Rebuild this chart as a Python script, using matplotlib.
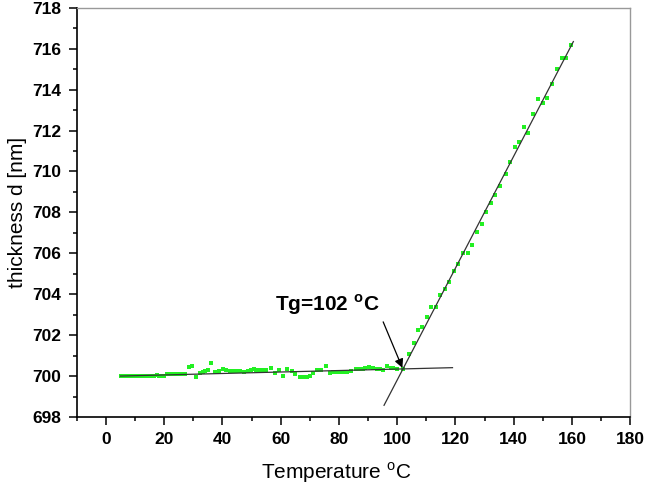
import numpy as np
import matplotlib.pyplot as plt
from matplotlib.ticker import MultipleLocator

plt.rcParams['font.family'] = ['Liberation Sans', 'DejaVu Sans']

temp = [5.3, 6.3, 7.1, 7.9, 8.8, 9.6, 10.5, 11.4, 12.2, 13.1, 14.0, 14.9,
        15.8, 16.6, 17.5, 18.4, 19.3, 20.1, 21.0, 22.0, 22.8, 23.7, 24.6,
        25.4, 26.3, 27.2, 28.5, 29.7, 31.1, 32.3, 33.2, 34.1, 34.9, 36.0,
        37.5, 38.7, 40.1, 41.2, 42.6, 43.5, 44.4, 45.3, 46.2, 47.5, 48.9,
        49.8, 50.7, 51.7, 52.7, 53.6, 55.0, 56.7, 57.9, 59.3, 60.7, 62.3,
        63.8, 65.1, 66.5, 67.8, 68.9, 70.1, 71.2, 72.6, 73.9, 75.6, 77.0,
        78.1, 79.2, 80.4, 81.5, 82.9, 84.0, 85.9, 87.0, 88.4, 89.1, 90.5,
        91.8, 93.0, 94.1, 95.0, 96.4, 97.8, 98.7, 99.9, 101.9,
        104.1, 105.7, 107.2, 108.7, 110.2, 111.6, 113.3, 114.8, 116.5,
        117.9, 119.6, 121.0, 122.6, 124.3, 125.8, 127.5, 129.0, 130.5,
        132.2, 133.6, 135.4, 137.2, 138.6, 140.3, 141.9, 143.4, 144.9,
        146.6, 148.3, 150.0, 151.5, 153.3, 154.9, 156.6, 158.0, 159.8]
thick = [700.00, 700.00, 700.00, 700.00, 700.00, 700.00, 700.00, 700.00,
         700.00, 700.00, 700.00, 700.00, 700.00, 700.00, 700.03, 700.00,
         700.00, 700.00, 700.08, 700.08, 700.08, 700.08, 700.08, 700.08,
         700.10, 700.11, 700.42, 700.47, 699.97, 700.16, 700.21, 700.24,
         700.28, 700.62, 700.21, 700.24, 700.34, 700.29, 700.24, 700.24,
         700.24, 700.24, 700.24, 700.21, 700.26, 700.29, 700.34, 700.31,
         700.31, 700.31, 700.31, 700.41, 700.15, 700.28, 700.00, 700.33,
         700.24, 700.11, 699.97, 699.97, 699.97, 700.00, 700.13, 700.29,
         700.29, 700.49, 700.13, 700.18, 700.18, 700.18, 700.21, 700.21,
         700.24, 700.34, 700.34, 700.34, 700.41, 700.46, 700.41, 700.37,
         700.34, 700.29, 700.51, 700.41, 700.41, 700.37, 700.37,
         701.08, 701.60, 702.25, 702.38, 702.87, 703.39, 703.39, 703.98,
         704.24, 704.62, 705.14, 705.48, 706.00, 706.00, 706.41, 707.06,
         707.42, 708.00, 708.45, 708.85, 709.30, 709.88, 710.45, 711.19,
         711.43, 712.15, 711.87, 712.80, 713.53, 713.37, 713.58, 714.28,
         715.02, 715.54, 715.57, 716.19]

# linear fits: (slope, value at Tg, T range)
tg = 102
d_tg = 700.35
glass_slope = 0.0036
glass_range = [5, 119]
melt_slope = 0.2735
melt_range = [95.5, 160.5]

fig = plt.figure(figsize=(6.45, 4.88), dpi=100)
ax = fig.add_axes([0.119, 0.1455, 0.858, 0.8385])

ax.plot(temp, thick, 's', color='#22f022', markersize=2.8, markeredgewidth=0)

for slope, rng in [(glass_slope, glass_range), (melt_slope, melt_range)]:
    xs = np.array(rng)
    ax.plot(xs, d_tg + slope * (xs - tg), color='#333333', lw=0.9)

ax.annotate('', xy=(101.8, 700.4), xytext=(95.2, 702.65),
            arrowprops=dict(arrowstyle='-|>', color='black', lw=0.9,
                            mutation_scale=13, shrinkA=0, shrinkB=0))
ax.text(58.0, 703.2, 'Tg=102 $^{\\mathregular{o}}$C', fontsize=15,
        fontweight='bold', ha='left', va='baseline')

ax.set_xlim(-10, 180)
ax.set_ylim(698, 718)
ax.xaxis.set_major_locator(MultipleLocator(20))
ax.xaxis.set_minor_locator(MultipleLocator(10))
ax.yaxis.set_major_locator(MultipleLocator(2))
ax.yaxis.set_minor_locator(MultipleLocator(1))
ax.set_xticks(np.arange(0, 181, 20))
ax.tick_params(which='both', direction='out', width=1.1, top=False, right=False)
ax.tick_params(which='major', length=6, labelsize=12.5, pad=5)
ax.tick_params(which='minor', length=3)
for lab in ax.get_xticklabels() + ax.get_yticklabels():
    lab.set_fontweight('bold')

for side in ['left', 'bottom']:
    ax.spines[side].set_linewidth(1.2)
for side in ['top', 'right']:
    ax.spines[side].set_color('#999999')
    ax.spines[side].set_linewidth(1.0)

ax.set_xlabel('Temperature $^{\\mathregular{o}}$C', fontsize=15, labelpad=8)
ax.xaxis.set_label_coords(0.468, -0.105)
ax.set_ylabel('thickness d [nm]', fontsize=15, labelpad=4)

plt.savefig('out.png', dpi=100)
